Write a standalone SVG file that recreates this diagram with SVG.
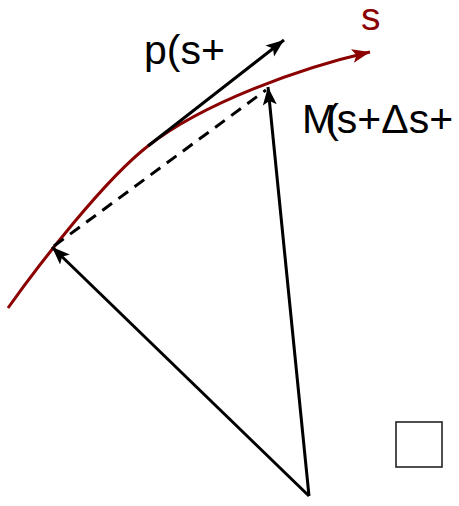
<svg xmlns="http://www.w3.org/2000/svg" width="459" height="506" viewBox="0 0 459 506">
<style>
.blk{stroke:#000;stroke-width:3;fill:none}
.red{stroke:#8b0000;stroke-width:3;fill:none}
.t{font-family:"Liberation Sans",Arial,sans-serif;font-size:41px;fill:#000}
</style>
<defs>
<marker id="ab" markerUnits="userSpaceOnUse" markerWidth="20" markerHeight="16" refX="18" refY="7" orient="auto" viewBox="0 0 20 14"><path d="M0,0 L18,7 L0,14 L4,7 Z" fill="#000"/></marker>
<marker id="ar" markerUnits="userSpaceOnUse" markerWidth="20" markerHeight="16" refX="18" refY="7" orient="auto" viewBox="0 0 20 14"><path d="M0,0 L18,7 L0,14 L4,7 Z" fill="#8b0000"/></marker>
</defs>
<g id="connectors">
<path id="curve" class="red" d="M8,308 C40,263 104.6,179.8 148,146 C203,103 300,68 370,52" marker-end="url(#ar)"/>
<line class="blk" x1="148" y1="146" x2="284" y2="40" marker-end="url(#ab)"/>
<line class="blk" x1="54" y1="246" x2="266" y2="90" stroke-dasharray="12,8"/>
<line class="blk" x1="309" y1="496" x2="268" y2="87" marker-end="url(#ab)"/>
<line class="blk" x1="309" y1="496" x2="52" y2="247" marker-end="url(#ab)"/>
</g>
<g id="label-s"><text x="361" y="30" style="font-family:'Liberation Sans',Arial,sans-serif;font-size:39px;fill:#8b0000">s</text></g>
<g id="label-p"><text class="t" x="144" y="64">p(s+</text></g>
<g id="label-M"><text class="t" x="302" y="133" dx="0 -11 -2">M(s+Δs+</text></g>
<g id="box"><rect x="396" y="422" width="46" height="45" fill="#fff" stroke="#222" stroke-width="1.6"/></g>
</svg>
